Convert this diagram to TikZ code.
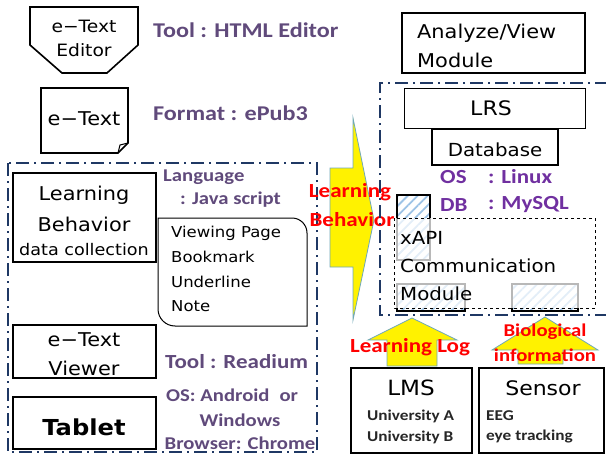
\documentclass[tikz,border=0pt]{standalone}
\usepackage{fontspec}
\usetikzlibrary{patterns.meta}
\newfontfamily\gf[FakeStretch=1.1]{DejaVu Sans}
\newfontfamily\cf[FakeStretch=1.15]{Carlito}
\definecolor{purp}{HTML}{604A7B}
\definecolor{vio}{HTML}{7030A0}
\definecolor{navy}{HTML}{1F3864}
\definecolor{ared}{HTML}{FF0000}
\definecolor{aedge}{HTML}{6FA8B8}
\definecolor{hatchc}{HTML}{9DC3E6}
\newcommand\fs[1]{\fontsize{#1}{#1}\selectfont}
\tikzset{
  box/.style={draw, line width=1.6pt},
  dd/.style={draw=navy, line width=1.8pt, dash pattern=on 13pt off 5pt on 2pt off 5pt},
  ptxt/.style={font=\cf\bfseries, text=purp, inner sep=0pt},
  vtxt/.style={font=\cf\bfseries, text=vio, inner sep=0pt},
  rtxt/.style={font=\cf\bfseries, text=ared, inner sep=0pt},
  btxt/.style={font=\cf\bfseries, text=black!85, inner sep=0pt},
  gtxt/.style={font=\gf, inner sep=0pt},
  yarrow/.style={fill=yellow, draw=aedge, line width=0.8pt},
  hatched/.style={pattern={Lines[angle=45,distance=7pt,line width=1.8pt]}, pattern color=hatchc},
}
\begin{document}
\begin{tikzpicture}[x=1pt,y=-1pt]
\useasboundingbox (0,0) rectangle (606,455);

% e-Text Editor
\draw[box] (30,7) -- (138,7) -- (138,45) -- (107,73) -- (62,73) -- (30,45) -- cycle;
\node[gtxt] (ed1) at (84,26) {\fs{17}e−Text};
\node[gtxt] (ed2) at (84,50) {\fs{17}Editor};
\node[ptxt, anchor=west] (tool1) at (153,30) {\fs{21}Tool : HTML Editor};

% e-Text document
\draw[box] (41,88) -- (128,88) -- (128,143) -- (118,153) -- (41,153) -- cycle;
\draw[line width=1pt] (118,153) -- (120,145) -- (128,143);
\node[gtxt] (etext) at (84,119) {\fs{19}e−Text};
\node[ptxt, anchor=west] (fmt) at (153,113) {\fs{21}Format : ePub3};

% left container
\draw[dd] (8,163) rectangle (317,452);

\draw[box] (13,173) rectangle (156,262);
\node[gtxt] (lb1) at (84,195) {\fs{19}Learning};
\node[gtxt] (lb2) at (84,224) {\fs{19}Behavior};
\node[gtxt] (lb3) at (84,250) {\fs{16}data collection};

\node[ptxt, anchor=west] (lang1) at (163,177) {\fs{18}Language};
\node[ptxt, anchor=west] (lang2) at (180,200) {\fs{18}: Java script};

\draw[line width=1pt] (158,218) -- (292,218) arc[start angle=-90, end angle=0, radius=15] -- (307,326) -- (175,326) arc[start angle=90, end angle=180, radius=17] -- cycle;
\node[gtxt, anchor=west] (l1) at (171,233) {\fs{15}Viewing Page};
\node[gtxt, anchor=west] (l2) at (171,257) {\fs{15}Bookmark};
\node[gtxt, anchor=west] (l3) at (171,282) {\fs{15}Underline};
\node[gtxt, anchor=west] (l4) at (171,306) {\fs{15}Note};

\draw[box] (13,325) rectangle (156,378);
\node[gtxt] (v1) at (84,340) {\fs{19}e−Text};
\node[gtxt] (v2) at (84,368) {\fs{19}Viewer};

\draw[box] (13,397) rectangle (156,449);
\node[gtxt, font=\gf\bfseries] (tab) at (84,427) {\fs{22}Tablet};

\node[ptxt, anchor=west] (read) at (165,362) {\fs{20}Tool : Readium};
\node[ptxt, anchor=west] (os1) at (166,395) {\fs{18}OS: Android\hspace{10pt}or};
\node[ptxt] (os2) at (240,420) {\fs{18}Windows};
\node[ptxt] (os3) at (240,443) {\fs{18}Browser: Chrome};

% big right arrow
\draw[yarrow] (330,168) -- (353,168) -- (353,118) -- (374,220) -- (353,320) -- (353,267) -- (330,267) -- cycle;
\node[rtxt] (lbh1) at (350,192) {\fs{20}Learning};
\node[rtxt] (lbh2) at (352,220) {\fs{20}Behavior};

% right container
\draw[dd] (608,83) -- (380,83) -- (380,315) -- (608,315);

\draw[box] (402,13) rectangle (585,73);
\node[gtxt, anchor=west] (an1) at (417,33) {\fs{19}Analyze/View};
\node[gtxt, anchor=west] (an2) at (417,60) {\fs{19}Module};

\draw[line width=0.9pt] (404,88) rectangle (585,128);
\node[gtxt] (lrs) at (491,108) {\fs{20}LRS};
\draw[line width=2.4pt] (432,129) rectangle (558,165);
\node[gtxt] (db) at (495,150) {\fs{18}Database};

\node[vtxt, anchor=west] (os) at (440,177) {\fs{20}OS};
\node[vtxt, anchor=west] (osv) at (488,177) {\fs{20}: Linux};
\node[vtxt, anchor=west] (dbn) at (440,205) {\fs{20}DB};
\node[vtxt, anchor=west] (dbv) at (488,205) {\fs{20}: MySQL};

% hatched parts
\draw[hatched, draw=black, line width=1.6pt] (397,195) rectangle (430,260);
\draw[hatched, draw=black, line width=1.6pt] (397,284) rectangle (465,311);
\draw[hatched, draw=black, line width=1.6pt] (512,284) rectangle (578,311);

% xAPI box
\draw[dashed, line width=1pt, fill=white, fill opacity=0.72, draw opacity=1] (394,218) rectangle (595,308);
\node[gtxt, anchor=west] (x1) at (400,238) {\fs{18}xAPI};
\node[gtxt, anchor=west] (x2) at (400,266) {\fs{18}Communication};
\node[gtxt, anchor=west] (x3) at (400,294) {\fs{18}Module};

% up arrows
\draw[yarrow] (412,318) -- (457,340) -- (437,340) -- (437,366) -- (387,366) -- (387,340) -- (368,340) -- cycle;
\node[rtxt] (llog) at (410,347) {\fs{20}Learning Log};
\draw[yarrow] (545,317) -- (598,350) -- (563,350) -- (563,364) -- (518,364) -- (518,350) -- (492,350) -- cycle;
\node[rtxt] (bio1) at (545,332) {\fs{18}Biological};
\node[rtxt] (bio2) at (545,355) {\fs{18}information};

% LMS and Sensor
\draw[box] (351,368) rectangle (472,453);
\node[gtxt] (lms) at (411,388) {\fs{21}LMS};
\node[btxt, anchor=west] (ua) at (367,416) {\fs{15}University A};
\node[btxt, anchor=west] (ub) at (367,437) {\fs{15}University B};

\draw[box] (479,368) rectangle (604,453);
\node[gtxt] (sen) at (543,388) {\fs{20}Sensor};
\node[btxt, anchor=west] (eeg) at (486,416) {\fs{15}EEG};
\node[btxt, anchor=west] (eye) at (486,437) {\fs{15}eye tracking};
\end{tikzpicture}
\end{document}
